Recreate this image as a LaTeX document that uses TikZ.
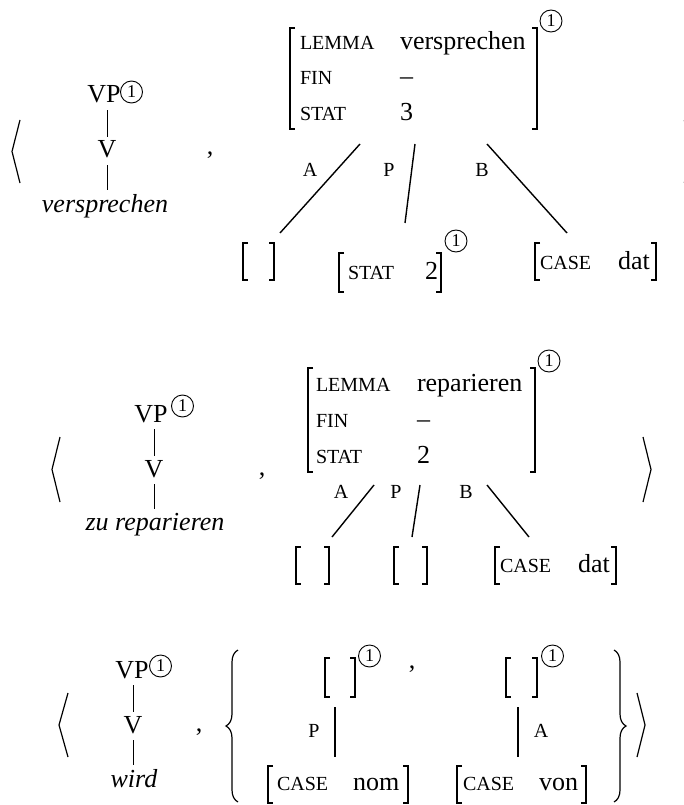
\documentclass[tikz,border=0pt]{standalone}
\usepackage{fontspec}
\setmainfont{Liberation Serif}
\usetikzlibrary{decorations.pathreplacing}
\newcommand\LB[3]{\draw[brk] ({#1+5},#2) -- (#1,#2) -- (#1,#3) -- ({#1+5},#3);}
\newcommand\RB[3]{\draw[brk] ({#1-5},#2) -- (#1,#2) -- (#1,#3) -- ({#1-5},#3);}
\tikzset{
  txt/.style={inner sep=0pt, outer sep=0pt, font=\fontsize{26}{30}\selectfont},
  itx/.style={inner sep=0pt, outer sep=0pt, font=\fontsize{26}{30}\selectfont\itshape},
  ft/.style={inner sep=0pt, outer sep=0pt, font=\fontsize{20}{22}\selectfont},
  tag/.style={circle, draw, line width=0.9pt, inner sep=0pt, minimum size=22pt, font=\fontsize{18}{18}\selectfont},
  tline/.style={line width=0.7pt, shorten <=7pt, shorten >=4pt},
  bline/.style={line width=1.4pt},
  brk/.style={line width=1.3pt},
  ang/.style={line width=1.2pt, line join=miter},
  brc/.style={line width=1.2pt, decorate, decoration={brace, amplitude=12pt, aspect=0.5}},
}
\begin{document}
\begin{tikzpicture}[x=1pt, y=-1pt]
\useasboundingbox (0,0) rectangle (684,805);

% ================= Section 1 =================
\draw[ang] (20,120) -- (12,151.5) -- (20,183);
\draw[ang] (684.3,120) -- (692,151.5) -- (684.3,183);

\node[txt, anchor=base] (vp1) at (104,103) {VP};
\node[tag] (t1a) at (131.5,92) {1};
\node[txt, anchor=base] (v1) at (107,158) {V};
\node[itx, anchor=base] (w1) at (105,212) {versprechen};
\draw[tline] (v1.north |- vp1.south) -- (v1.north);
\draw[tline] (v1.south) -- (v1.south |- w1.north);

\node[txt, anchor=base] (c1) at (210,155) {,};

\LB{290}{28}{129} \RB{537}{28}{129}
\node[ft, anchor=base west] (lem1) at (300,50) {LEMMA};
\node[txt, anchor=base west] (lemv1) at (400,50) {versprechen};
\node[ft, anchor=base west] (fin1) at (300,85) {FIN};
\node[txt, anchor=base west] (finv1) at (400,85) {–};
\node[ft, anchor=base west] (stat1) at (300,121) {STAT};
\node[txt, anchor=base west] (statv1) at (400,121) {3};
\node[tag] (t1b) at (551,21) {1};

\coordinate (a1t) at (360,144); \coordinate (a1b) at (280,233);
\coordinate (p1t) at (415,144); \coordinate (p1b) at (405,223);
\coordinate (b1t) at (487,144); \coordinate (b1b) at (567,233);
\draw[bline] (a1t) -- (a1b);
\draw[bline] (p1t) -- (p1b);
\draw[bline] (b1t) -- (b1b);
\node[ft, anchor=base] (la1) at (310,176) {A};
\node[ft, anchor=base] (lp1) at (389,176) {P};
\node[ft, anchor=base] (lb1) at (482,176) {B};

\LB{243}{243}{280} \RB{274}{243}{280}
\LB{339}{253}{292}
\node[ft, anchor=base west] (st1) at (348,279) {STAT};
\node[txt, anchor=base west] (st1v) at (425,279) {2};
\RB{441}{253}{292}
\node[tag] (t1c) at (456,241) {1};
\LB{535}{243}{280}
\node[ft, anchor=base west] (cs1) at (540,269) {CASE};
\node[txt, anchor=base west] (dat1) at (618,269) {dat};
\RB{656}{243}{280}

% ================= Section 2 =================
\draw[ang] (60,437) -- (52,469.5) -- (60,502);
\draw[ang] (643,437) -- (651,469.5) -- (643,502);

\node[txt, anchor=base] (vp2) at (151,422) {VP};
\node[tag] (t2a) at (182.5,406) {1};
\node[txt, anchor=base] (v2) at (154,477) {V};
\node[itx, anchor=base] (w2) at (155,530) {zu reparieren};
\draw[tline] (v2.north |- vp2.south) -- (v2.north);
\draw[tline] (v2.south) -- (v2.south |- w2.north);

\node[txt, anchor=base] (c2) at (262,475) {,};

\LB{308}{368}{472} \RB{535}{368}{472}
\node[ft, anchor=base west] (lem2) at (316,391) {LEMMA};
\node[txt, anchor=base west] (lemv2) at (417,391) {reparieren};
\node[ft, anchor=base west] (fin2) at (316,427) {FIN};
\node[txt, anchor=base west] (finv2) at (417,427) {–};
\node[ft, anchor=base west] (stat2) at (316,463) {STAT};
\node[txt, anchor=base west] (statv2) at (417,463) {2};
\node[tag] (t2b) at (549,361) {1};

\coordinate (a2t) at (374,485); \coordinate (a2b) at (332,537);
\coordinate (p2t) at (420,485); \coordinate (p2b) at (412,537);
\coordinate (b2t) at (487,485); \coordinate (b2b) at (529,537);
\draw[bline] (a2t) -- (a2b);
\draw[bline] (p2t) -- (p2b);
\draw[bline] (b2t) -- (b2b);
\node[ft, anchor=base] (la2) at (341,498) {A};
\node[ft, anchor=base] (lp2) at (396,498) {P};
\node[ft, anchor=base] (lb2) at (466,498) {B};

\LB{296}{547}{584} \RB{329}{547}{584}
\LB{394}{547}{584} \RB{427}{547}{584}
\LB{495}{547}{584}
\node[ft, anchor=base west] (cs2) at (500,572) {CASE};
\node[txt, anchor=base west] (dat2) at (578,572) {dat};
\RB{616}{547}{584}

% ================= Section 3 =================
\draw[ang] (68,693) -- (59,725) -- (68,757);
\draw[ang] (637,693) -- (645,725) -- (637,757);

\node[txt, anchor=base] (vp3) at (132,678) {VP};
\node[tag] (t3a) at (160.5,666) {1};
\node[txt, anchor=base] (v3) at (133,733) {V};
\node[itx, anchor=base] (w3) at (134,787) {wird};
\draw[tline] (v3.north |- vp3.south) -- (v3.north);
\draw[tline] (v3.south) -- (v3.south |- w3.north);

\node[txt, anchor=base] (c3) at (199,731) {,};

\coordinate (lbrb) at (238,802); \coordinate (lbrt) at (238,650);
\coordinate (rbrt) at (614,650); \coordinate (rbrb) at (614,802);
\draw[brc] (lbrb) -- (lbrt);
\draw[brc] (rbrt) -- (rbrb);

\LB{325}{658}{697} \RB{355}{658}{697}
\node[tag] (t3b) at (369.5,656) {1};
\node[txt, anchor=base] (c4) at (412,668) {,};
\LB{506}{658}{697} \RB{537}{658}{697}
\node[tag] (t3c) at (552.5,656) {1};

\coordinate (p3t) at (335,707); \coordinate (p3b) at (335,757);
\coordinate (a3t) at (518,707); \coordinate (a3b) at (518,757);
\draw[line width=1.8pt] (p3t) -- (p3b);
\draw[line width=1.8pt] (a3t) -- (a3b);
\node[ft, anchor=base] (lp3) at (314,737) {P};
\node[ft, anchor=base] (la3) at (541,737) {A};

\LB{268}{766}{803}
\node[ft, anchor=base west] (cs3) at (277,790) {CASE};
\node[txt, anchor=base west] (nom3) at (353,790) {nom};
\RB{408}{766}{803}
\LB{457}{766}{803}
\node[ft, anchor=base west] (cs4) at (463,790) {CASE};
\node[txt, anchor=base west] (von3) at (539,790) {von};
\RB{586}{766}{803}
\end{tikzpicture}
\end{document}
